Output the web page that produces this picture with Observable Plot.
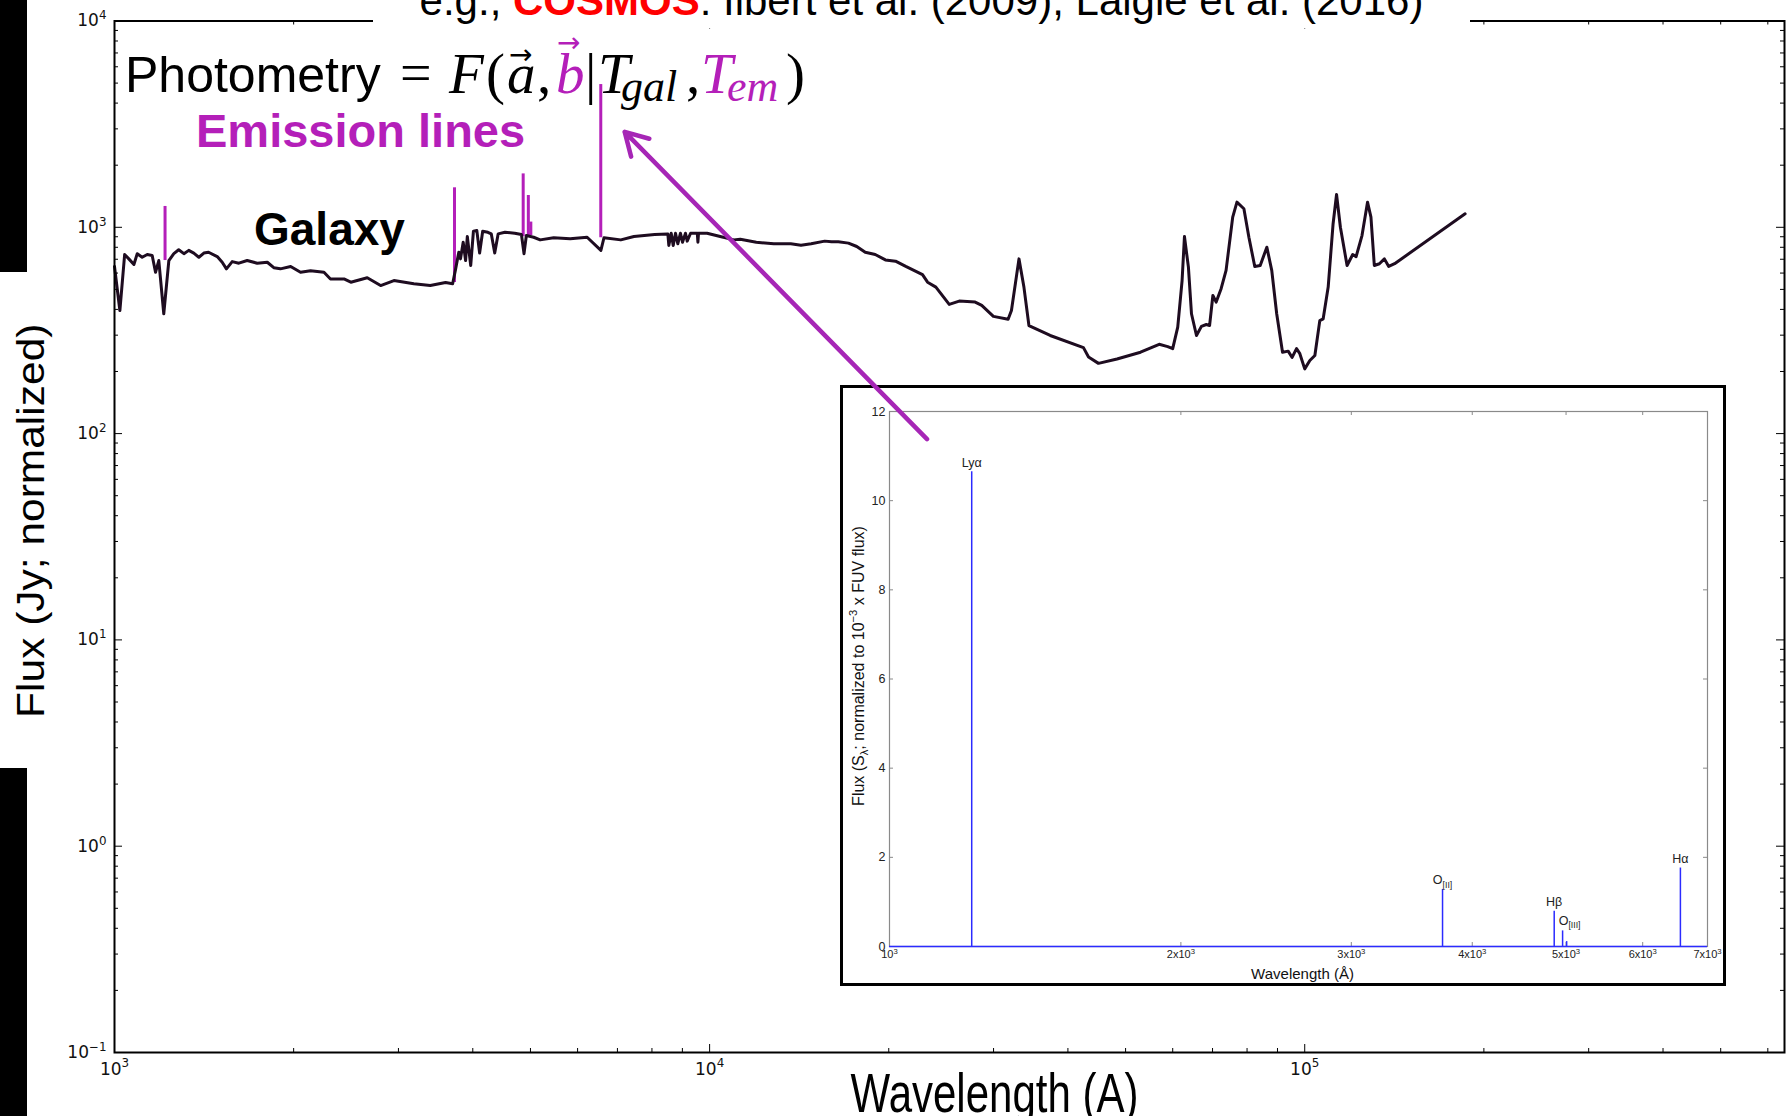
<!DOCTYPE html>
<html><head><meta charset="utf-8">
<script src="https://cdn.jsdelivr.net/npm/d3@7"></script>
<script src="https://cdn.jsdelivr.net/npm/@observablehq/plot@0.6"></script>
<style>
html,body{margin:0;padding:0;background:#fff;}
#stage{position:relative;width:1791px;height:1116px;overflow:hidden;background:#fff;font-family:"Liberation Sans",Arial,sans-serif;}
.abs{position:absolute;white-space:nowrap;line-height:1;}
.layer{position:absolute;left:0;top:0;}
</style></head><body><div id="stage"></div>
<script>
// ---------------- data ----------------
const galWave = [1000,1021,1040,1057,1078,1092,1113,1135,1157,1172,
1187,1210,1234,1258,1282,1308,1333,1359,1386,1413,
1439,1488,1517,1542,1577,1618,1671,1737,1806,1852,
1900,1977,2054,2135,2249,2306,2430,2495,2659,2800,
2948,3184,3393,3600,3700,3739,3789,3814,3854,3890,
3916,3968,4010,4063,4107,4156,4240,4297,4354,4412,
4530,4705,4828,4877,4921,5062,5191,5470,5830,6225,
6566,6645,7092,7461,8085,8508,8540,8619,8686,8764,
8842,8934,9004,9109,9169,9290,9535,9557,9580,9902,
10420,10980,11260,11980,12820,13690,14240,14810,15610,16030,
16450,17110,17670,18260,18980,19740,20530,21360,22790,23240,
24000,25270,26270,27940,28660,29980,31740,32150,33100,33740,
34400,37350,42480,43320,45020,48370,52980,56940,58850,60000,
61180,62220,62790,63760,64520,65780,67050,68340,69200,70090,
70990,72360,73760,75680,76930,79030,80570,82420,84180,86360,
88020,89720,91770,93800,95240,96880,98130,100000,102000,104000,
106000,107400,109500,111600,113100,114800,117800,120400,122000,124800,
127500,129200,130900,133500,136100,138400,141600,186000];
const galFlux = [646,395,738,703,660,745,716,738,730,605,
690,381,690,745,778,745,773,750,716,750,
757,721,677,629,682,670,690,670,677,637,
629,646,605,615,605,562,562,542,569,522,
552,532,522,540,533,618,757,703,847,690,
902,653,957,964,750,957,946,929,750,929,
946,936,922,745,912,895,869,890,879,895,
773,890,869,902,922,929,817,936,817,936,
832,936,847,936,857,936,936,847,936,936,
902,869,875,847,832,832,819,832,857,851,
851,838,807,757,738,695,685,646,590,542,
513,423,439,434,418,370,358,395,703,513,
334,299,261,235,219,230,248,271,264,258,
328,552,902,641,381,299,331,338,334,467,
434,504,618,1120,1324,1230,895,646,653,801,
618,381,248,251,234,258,244,206,226,239,
353,360,513,1041,1442,1000,653,738,721,912,
1324,1120,653,666,703,646,666,1162];

// emission lines drawn on the main spectrum (magenta)
const emWave = [1216, 3727, 4861, 4959, 5007, 6563];
const emBase = [690, 540, 900, 912, 912, 890];
const emTop  = [1262, 1554, 1815, 1426, 1060, 4920];

// inset emission-line template
const insetWave   = [1216, 3727, 4861, 4959, 5007, 6563];
const insetHeight = [10.65, 1.28, 0.79, 0.35, 0.11, 1.76];
const insetLabel  = ["Lyα", "O_{[II]}", "Hβ", "O_{[III]}", "", "Hα"];

// axes
const mainXTicks = [1e3, 1e4, 1e5];
const mainYTicks = [0.1, 1, 10, 100, 1000, 10000];
const insetXTicks = [1000, 2000, 3000, 4000, 5000, 6000, 7000];
const insetXTickText = ["10^{3}", "2x10^{3}", "3x10^{3}", "4x10^{3}", "5x10^{3}", "6x10^{3}", "7x10^{3}"];
const insetYTicks = [0, 2, 4, 6, 8, 10, 12];

// annotation arrow (wavelength, flux)
const arrowFrom = [23190, 94];
const arrowTo   = [7200, 2900];

// ---------------- helpers ----------------
const MAG = "#b41fb9";
const stage = document.getElementById("stage");
function rich(root){
  root.querySelectorAll("text").forEach(t=>{
    const s = t.textContent;
    if(!/[\^_]\{/.test(s)) return;
    const fs = parseFloat(getComputedStyle(t).fontSize) || 12;
    const parts = s.split(/([\^_]\{[^}]*\})/).filter(p=>p.length);
    t.textContent = "";
    let shift = 0;
    for(const p of parts){
      const ts = document.createElementNS("http://www.w3.org/2000/svg","tspan");
      let target = 0, txt = p, small = false;
      if(p.startsWith("^{")){target = -0.42*fs; txt = p.slice(2,-1); small = true;}
      else if(p.startsWith("_{")){target = 0.25*fs; txt = p.slice(2,-1); small = true;}
      const d = target - shift; if(d) ts.setAttribute("dy", d.toFixed(2));
      shift = target;
      if(small) ts.setAttribute("font-size", (0.7*fs).toFixed(2)+"px");
      ts.textContent = txt; t.appendChild(ts);
    }
  });
}
function squish(root, str, k){
  root.querySelectorAll("text").forEach(t=>{
    if(t.textContent !== str) return;
    const tr = t.getAttribute("transform") || "";
    if(/translate\(/.test(tr)) t.setAttribute("transform", tr.replace(/(translate\([^)]*\))/, `$1 scale(${k},1)`));
    else t.setAttribute("transform", `scale(${k},1) ` + tr);
  });
}
const pow10 = d => { const e = Math.round(Math.log10(d)); return "10^{" + (e < 0 ? "−" + (-e) : e) + "}"; };

// ---------------- main plot ----------------
const W = 1791, H = 1116, mL = 114, mR = 7, mT = 20.5, mB = 64;
const fw = W - mL - mR, fh = H - mT - mB;
const xDomain = [1000, 640000], yDomain = [0.1, 10000];
const spectrum = galWave.map((w,i)=>({w, f: galFlux[i]}));
const emis = emWave.map((w,i)=>({w, b: emBase[i], t: emTop[i]}));
const minorX = []; for(let k=3;k<=5;k++) for(let m=2;m<=9;m++){const v=m*10**k; if(v<xDomain[1]) minorX.push(v);}
const minorY = []; for(let k=-1;k<=3;k++) for(let m=2;m<=9;m++) minorY.push(m*10**k);
const MAJ = 8, MIN = 4;

const main = Plot.plot({
  width: W, height: H, marginLeft: mL, marginRight: mR, marginTop: mT, marginBottom: mB,
  style: {fontFamily: "'DejaVu Sans', sans-serif", fontSize: "17px", background: "#fff", color: "#000", overflow: "visible"},
  x: {type: "log", domain: xDomain, label: null},
  y: {type: "log", domain: yDomain, label: null},
  marks: [
    Plot.ruleX(emis, {x: "w", y1: "b", y2: "t", stroke: MAG, strokeWidth: 3}),
    Plot.line(spectrum, {x: "w", y: "f", stroke: "#1e0c20", strokeWidth: 3, strokeLinejoin: "round"}),
    Plot.tickX(mainXTicks, {x: d=>d, insetTop: fh - MAJ, stroke: "#000"}),
    Plot.tickX(mainXTicks, {x: d=>d, insetBottom: fh - MAJ, stroke: "#000"}),
    Plot.tickX(minorX, {x: d=>d, insetTop: fh - MIN, stroke: "#000"}),
    Plot.tickX(minorX, {x: d=>d, insetBottom: fh - MIN, stroke: "#000"}),
    Plot.tickY(mainYTicks, {y: d=>d, insetRight: fw - MAJ, stroke: "#000"}),
    Plot.tickY(mainYTicks, {y: d=>d, insetLeft: fw - MAJ, stroke: "#000"}),
    Plot.tickY(minorY, {y: d=>d, insetRight: fw - MIN, stroke: "#000"}),
    Plot.tickY(minorY, {y: d=>d, insetLeft: fw - MIN, stroke: "#000"}),
    Plot.frame({stroke: "#000", strokeWidth: 2}),
    Plot.axisX({ticks: mainXTicks, tickSize: 0, tickPadding: 10, tickFormat: pow10, label: null, fill: "#111"}),
    Plot.axisY({ticks: mainYTicks, tickSize: 0, tickPadding: 8, tickFormat: pow10, label: null, fill: "#111"}),
    Plot.text(["Wavelength (A)"], {frameAnchor: "bottom", text: d=>d, dx: 45, dy: 59, lineAnchor: "bottom", textAnchor: "middle",
      fontSize: 56, fontFamily: "'Liberation Sans', Arial, sans-serif", fill: "#000"}),
    Plot.text(["Flux (Jy; normalized)"], {frameAnchor: "left", text: d=>d, rotate: -90, dx: -71, dy: -16, lineAnchor: "bottom", textAnchor: "middle",
      fontSize: 42.5, fontFamily: "'Liberation Sans', Arial, sans-serif", fill: "#000"})
  ]
});
main.classList.add("layer");
main.style.zIndex = 1;
stage.appendChild(main);
squish(main, "Wavelength (A)", 0.75);
squish(main, "Flux (Jy; normalized)", 0.9);
rich(main);

// ---------------- inset ----------------
const iw = 880, ih = 595, iL = 46, iR = 16, iT = 23, iB = 37;
const ifw = iw - iL - iR, ifh = ih - iT - iB;
const GR = "#8a8a8a", BLUE = "#2b2bff";
const insetLines = insetWave.map((w,i)=>({w, h: insetHeight[i], label: insetLabel[i]}));
const labelsMain = insetLines.filter(d => d.label && !d.label.startsWith("O_{[III]"));
const labelsO3 = insetLines.filter(d => d.label.startsWith("O_{[III]"));
const inset = Plot.plot({
  width: iw, height: ih, marginLeft: iL, marginRight: iR, marginTop: iT, marginBottom: iB,
  style: {fontFamily: "'Liberation Sans', Arial, sans-serif", fontSize: "12px", background: "#fff", color: "#222", overflow: "visible"},
  x: {type: "log", domain: [1000, 7000], label: null},
  y: {domain: [0, 12], label: null},
  marks: [
    Plot.frame({stroke: GR, strokeWidth: 1.2}),
    Plot.tickX(insetXTicks, {x: d=>d, insetTop: ifh - 4, stroke: GR}),
    Plot.tickX(insetXTicks, {x: d=>d, insetBottom: ifh - 4, stroke: GR}),
    Plot.tickY(insetYTicks, {y: d=>d, insetRight: ifw - 4, stroke: GR}),
    Plot.tickY(insetYTicks, {y: d=>d, insetLeft: ifw - 4, stroke: GR}),
    Plot.ruleY([0], {stroke: BLUE, strokeWidth: 1.6}),
    Plot.ruleX(insetLines, {x: "w", y1: 0, y2: "h", stroke: BLUE, strokeWidth: 1.5}),
    Plot.text(labelsMain, {x: "w", y: "h", text: "label", dy: -5, lineAnchor: "bottom", fontSize: 12.5, fill: "#222"}),
    Plot.text(labelsO3, {x: "w", y: "h", text: "label", dx: 7, dy: -6, lineAnchor: "bottom", fontSize: 12.5, fill: "#222"}),
    Plot.axisX({ticks: insetXTicks, tickSize: 0, tickPadding: 4, tickFormat: d=>insetXTickText[insetXTicks.indexOf(d)], label: null, fontSize: 11, fill: "#222"}),
    Plot.axisY({ticks: insetYTicks, tickSize: 0, tickPadding: 4, label: null, fontSize: 12.5, fill: "#222"}),
    Plot.text(["Wavelength (Å)"], {frameAnchor: "bottom", text: d=>d, dx: 4, dy: 32, lineAnchor: "bottom", textAnchor: "middle", fontSize: 15, fill: "#111"}),
    Plot.text(["Flux (S_{λ}; normalized to 10^{−3} x FUV flux)"], {frameAnchor: "left", text: d=>d, rotate: -90, dx: -26, dy: -13, lineAnchor: "bottom", textAnchor: "middle", fontSize: 16, fill: "#111"})
  ]
});
const wrap = document.createElement("div");
wrap.style.cssText = "position:absolute;left:840px;top:385px;border:3px solid #000;background:#fff;z-index:2;line-height:0;";
wrap.style.width = iw + "px"; wrap.style.height = ih + "px";
wrap.appendChild(inset);
stage.appendChild(wrap);
rich(inset);

// ---------------- arrow overlay ----------------
const arrowPlot = Plot.plot({
  width: W, height: H, marginLeft: mL, marginRight: mR, marginTop: mT, marginBottom: mB,
  style: {background: "transparent", overflow: "visible"},
  x: {type: "log", domain: xDomain, axis: null},
  y: {type: "log", domain: yDomain, axis: null},
  marks: [
    Plot.arrow([{x1: arrowFrom[0], y1: arrowFrom[1], x2: arrowTo[0], y2: arrowTo[1]}],
      {x1: "x1", y1: "y1", x2: "x2", y2: "y2", stroke: "#a626b6", strokeWidth: 4.5, headLength: 8.5, headAngle: 60})
  ]
});
arrowPlot.classList.add("layer");
arrowPlot.style.zIndex = 3; arrowPlot.style.pointerEvents = "none";
stage.appendChild(arrowPlot);

// ---------------- slide texts ----------------
function put(html, x, base, fs, css){
  const d = document.createElement("div");
  d.className = "abs";
  d.style.left = x + "px";
  d.style.top = (base - 0.846*fs) + "px";
  d.style.fontSize = fs + "px";
  d.style.cssText += css || "";
  d.innerHTML = html;
  d.style.zIndex = 4;
  stage.appendChild(d);
  return d;
}
// title with white box
const title = document.createElement("div");
title.className = "abs";
title.style.cssText += "left:373px;width:1097px;top:-20px;height:48px;background:#fff;text-align:center;font-size:42px;z-index:4;line-height:42px;";
title.innerHTML = 'e.g., <b style="color:#ff0000">COSMOS</b>: Ilbert et al. (2009), Laigle et al. (2016)';
stage.appendChild(title);

const SERIF = "font-family:'Liberation Serif','Times New Roman',serif;";
const IT = "font-style:italic;";
put("Photometry", 125, 92, 50, "");
put("=", 400, 92, 56, SERIF);
put("F", 449, 93, 57, SERIF+IT);
put("(", 486, 93, 57, SERIF);
put("a", 507, 93, 57, SERIF+IT);
put(",", 537, 93, 57, SERIF);
put("b", 556, 93, 57, SERIF+IT+"color:"+MAG+";");
put("|", 585, 93, 57, SERIF);
put("T", 598, 93, 57, SERIF+IT);
put("gal", 621, 102, 44, SERIF+IT);
put(",", 686, 93, 57, SERIF);
put("T", 701, 93, 57, SERIF+IT+"color:"+MAG+";");
put("em", 727, 102, 44, SERIF+IT+"color:"+MAG+";");
put(")", 786, 93, 57, SERIF);
put("→", 509, 65, 28, "font-family:'DejaVu Sans',sans-serif;");
put("→", 557, 53, 28, "font-family:'DejaVu Sans',sans-serif;color:"+MAG+";");
put("Emission lines", 196, 147, 47, "font-weight:bold;color:"+MAG+";");
put("Galaxy", 254, 245, 46, "font-weight:bold;color:#000;");

// slide-edge black bars
for (const [t,h] of [[0,272],[768,348]]) {
  const b = document.createElement("div");
  b.style.cssText = `position:absolute;left:0;top:${t}px;width:27px;height:${h}px;background:#000;z-index:5;`;
  stage.appendChild(b);
}
</script></body></html>
